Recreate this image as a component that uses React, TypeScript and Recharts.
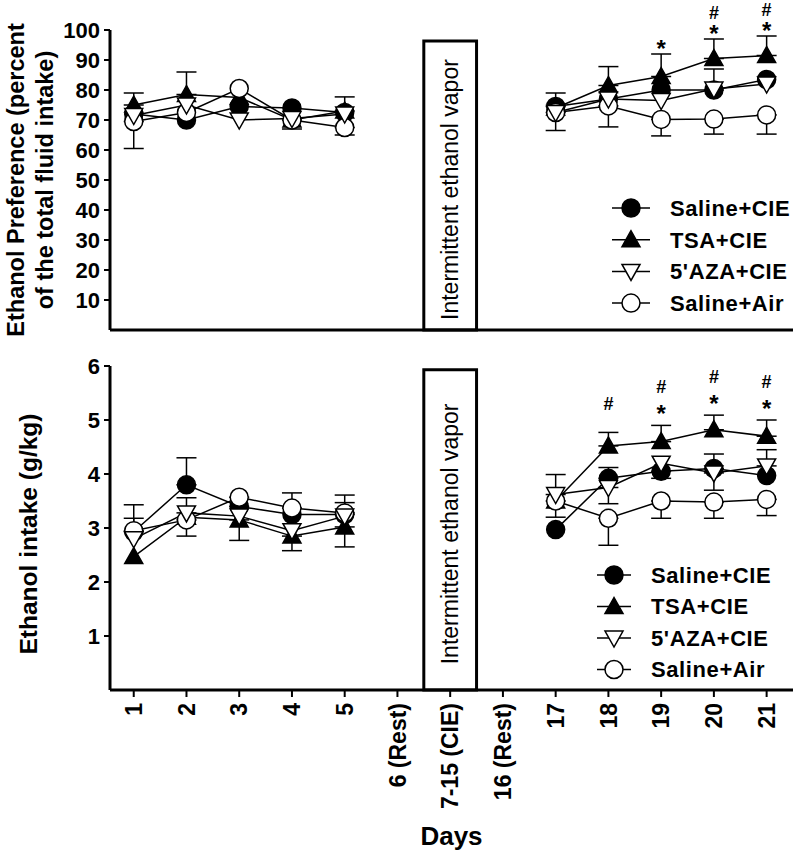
import React from "react";
import { LineChart, Line, XAxis, YAxis, ErrorBar, ReferenceArea, LabelList } from "recharts";

const FONT = "Arial, 'Liberation Sans', Helvetica, sans-serif";

const dayLabels = ["1", "2", "3", "4", "5", "6 (Rest)", "7-15 (CIE)", "16 (Rest)", "17", "18", "19", "20", "21"];
const dayTicks = [1, 2, 3, 4, 5, 6, 7, 8, 9, 10, 11, 12, 13];
const seriesNames = ["Saline+CIE", "TSA+CIE", "5'AZA+CIE", "Saline+Air"];

const n = null;

// ethanol preference (% of total fluid intake)
const prefSalineCie = [72, 70, 74.5, 74, 72.5, n, n, n, 74.5, 77, 80, 80, 83.5];
const prefTsa = [75, 78.5, 77.5, 70, 73, n, n, n, 74, 81.5, 84.5, 90.5, 91.5];
const prefAza = [71.5, 75, 70, 70.5, 72, n, n, n, 72.5, 77, 76.5, 80.3, 82];
const prefAir = [69.5, 72.5, 80.5, 70, 67.5, n, n, n, 72.5, 74.7, 70.2, 70.3, 71.7];
// sem, + = bar drawn upward, - = downward
const prefSalineCieErr = [0, 0, 0, 0, 0, n, n, n, 4.5, 0, 0, 7, 0];
const prefTsaErr = [4, 7.5, 0, -3, 4.7, n, n, n, 0, 6.3, 7.5, 6.5, 6.5];
const prefAzaErr = [0, 0, 0, 0, 0, n, n, n, 0, 0, 0, 0, 0];
const prefAirErr = [-9, 0, 0, 0, -2.5, n, n, n, -6, -7, -5.5, -5, -6.4];
const prefSig = ["", "", "", "", "", "", "", "", "", "", "*", "#*", "#*"];

// ethanol intake (g/kg)
const intSalineCie = [2.93, 3.8, 3.4, 3.25, 3.25, n, n, n, 2.97, 3.92, 4.05, 4.1, 3.97];
const intTsa = [2.47, 3.2, 3.15, 2.85, 3.02, n, n, n, 3.5, 4.52, 4.6, 4.82, 4.7];
const intAza = [2.8, 3.28, 3.22, 2.95, 3.22, n, n, n, 3.62, 3.75, 4.2, 4.02, 4.15];
const intAir = [2.95, 3.15, 3.57, 3.37, 3.28, n, n, n, 3.5, 3.18, 3.5, 3.48, 3.53];
const intSalineCieErr = [0.25, 0.5, 0.17, 0, 0.22, n, n, n, 0, 0.2, -0.13, 0.27, 0];
const intTsaErr = [0, 0, -0.38, -0.27, -0.37, n, n, n, 0, 0.25, 0.3, 0.27, 0.3];
const intAzaErr = [0, 0.28, 0, 0, 0, n, n, n, 0.37, -0.3, 0, -0.32, 0.3];
const intAirErr = [0.48, -0.3, 0, 0.28, 0.33, n, n, n, -0.3, -0.5, -0.32, -0.3, -0.3];
const intSig = ["", "", "", "", "", "", "", "", "", "#", "#*", "#*", "#*"];

type Kind = "fillCircle" | "fillTri" | "openTri" | "openCircle";
const kinds: Kind[] = ["fillCircle", "fillTri", "openTri", "openCircle"];
// draw order: open circle under the open triangle
const drawOrder = [0, 1, 3, 2];

function Marker({ kind, cx, cy }: { kind: Kind; cx: number; cy: number }) {
  if (cx == null || cy == null || isNaN(cy)) return <g />;
  if (kind === "fillCircle") return <circle cx={cx} cy={cy} r={9} fill="#000" stroke="#000" strokeWidth={1.5} />;
  if (kind === "openCircle") return <circle cx={cx} cy={cy} r={9} fill="#fff" stroke="#000" strokeWidth={1.5} />;
  if (kind === "fillTri")
    return <polygon points={`${cx},${cy - 9} ${cx - 9},${cy + 7} ${cx + 9},${cy + 7}`} fill="#000" stroke="#000" strokeWidth={1.5} />;
  return <polygon points={`${cx - 9},${cy - 7} ${cx + 9},${cy - 7} ${cx},${cy + 9}`} fill="#fff" stroke="#000" strokeWidth={1.5} />;
}

function errPair(e: number | null) {
  if (e == null || e === 0) return null;
  return e > 0 ? [0, e] : [-e, 0];
}

function buildRows(vals: (number | null)[][], errs: (number | null)[][], sig: string[]) {
  return dayTicks.map((pos, i) => {
    const row: any = { pos, sig: sig[i] || null };
    vals.forEach((v, s) => {
      row[`s${s}`] = v[i];
      row[`e${s}`] = errPair(errs[s][i]);
    });
    const t = vals[1][i];
    const te = errs[1][i] ?? 0;
    row.sigBase = sig[i] && t != null ? t + Math.max(te, 0) : null;
    return row;
  });
}

const prefRows = buildRows(
  [prefSalineCie, prefTsa, prefAza, prefAir],
  [prefSalineCieErr, prefTsaErr, prefAzaErr, prefAirErr],
  prefSig
);
const intRows = buildRows(
  [intSalineCie, intTsa, intAza, intAir],
  [intSalineCieErr, intTsaErr, intAzaErr, intAirErr],
  intSig
);

// "#" and "*" stacked above the TSA error bar, one text element per day
const makeSig = (starGap: number, hashGap: number, loneHashGap: number) => (p: any) => {
  const value = p.value;
  const x = p.x ?? p.viewBox?.x;
  const y = p.y ?? p.viewBox?.y;
  if (!value || x == null || y == null) return null;
  const hasStar = value.includes("*");
  const hasHash = value.includes("#");
  const hy = hasStar ? y - hashGap : y - loneHashGap;
  return (
    <text key={`sig-${p.index}`} textAnchor="middle" fontWeight={700} fontFamily={FONT} fill="#000">
      {hasHash && (
        <tspan x={x} y={hy + 6.5} fontSize={18}>
          #
        </tspan>
      )}
      {hasStar && (
        <tspan x={x} y={y - starGap + 13.5} fontSize={24}>
          *
        </tspan>
      )}
    </text>
  );
};

function VaporLabel(props: any) {
  const vb = props.viewBox || {};
  const cx = vb.x + vb.width / 2;
  const cy = vb.y + vb.height / 2 + 4;
  return (
    <text
      x={cx}
      y={cy}
      transform={`rotate(-90, ${cx}, ${cy})`}
      textAnchor="middle"
      dy="0.35em"
      fontSize={23}
      fontFamily={FONT}
      fill="#000"
    >
      Intermittent ethanol vapor
    </text>
  );
}

function YTitle(props: any) {
  const vb = props.viewBox || {};
  const cy = vb.y + vb.height / 2 + (props.shift || 0);
  const lines: string[] = props.lines;
  const xs: number[] = props.xs;
  return (
    <g>
      {lines.map((l, i) => (
        <text
          key={i}
          x={xs[i]}
          y={cy}
          transform={`rotate(-90, ${xs[i]}, ${cy})`}
          textAnchor="middle"
          dy="0.35em"
          fontSize={props.size || 24}
          fontWeight={700}
          fontFamily={FONT}
          fill="#000"
        >
          {l}
        </text>
      ))}
    </g>
  );
}

function DayTick(props: any) {
  const { x, payload } = props;
  const y = props.y + 4;
  return (
    <text
      x={x}
      y={y}
      transform={`rotate(-90, ${x}, ${y})`}
      textAnchor="end"
      dy="0.36em"
      fontSize={23}
      fontWeight={700}
      fontFamily={FONT}
      fill="#000"
    >
      {dayLabels[payload.value - 1]}
    </text>
  );
}

function Legend({ sx, x1, x2, tx, top, gap }: { sx: number; x1: number; x2: number; tx: number; top: number; gap: number }) {
  return (
    <g>
      {seriesNames.map((name, i) => {
        const y = top + i * gap;
        return (
          <g key={name}>
            <line x1={x1} x2={x2} y1={y} y2={y} stroke="#000" strokeWidth={1.5} />
            <Marker kind={kinds[i]} cx={sx} cy={y} />
            <text x={tx} y={y} dy="0.36em" fontSize={22} fontWeight={700} fontFamily={FONT} fill="#000" letterSpacing={0.6}>
              {name}
            </text>
          </g>
        );
      })}
    </g>
  );
}

const axisLine = { stroke: "#000", strokeWidth: 3 };
const tickLine = { stroke: "#000", strokeWidth: 2 };
const yTick = { fontSize: 22, fontWeight: 700, fill: "#000", fontFamily: FONT };
const xDomain = [0.55, 13.5];

function seriesLines(prefix: string, sigRenderer: any) {
  const out = drawOrder.map((s) => (
    <Line
      key={`${prefix}${s}`}
      dataKey={`s${s}`}
      stroke="#000"
      strokeWidth={1.5}
      connectNulls={false}
      activeDot={false}
      isAnimationActive={false}
      dot={(p: any) => <Marker key={`${prefix}${s}-${p.index}`} kind={kinds[s]} cx={p.cx} cy={p.cy} />}
    >
      <ErrorBar dataKey={`e${s}`} direction="y" width={10} stroke="#000" strokeWidth={1.5} />
    </Line>
  ));
  out.push(
    <Line
      key={`${prefix}sig`}
      dataKey="sigBase"
      stroke="none"
      dot={false}
      activeDot={false}
      isAnimationActive={false}
      legendType="none"
    >
      <LabelList dataKey="sig" content={sigRenderer} />
    </Line>
  );
  return out;
}

export default function App() {
  return (
    <div style={{ position: "absolute", left: 0, top: 0, width: 796, height: 853, background: "#fff" }}>
      <div style={{ position: "absolute", left: 0, top: 0 }}>
        <LineChart width={796} height={345} data={prefRows} margin={{ top: 30, right: 3, bottom: 0, left: 0 }}>
          <XAxis
            type="number"
            dataKey="pos"
            domain={xDomain}
            ticks={dayTicks}
            tick={false}
            tickSize={7}
            height={15}
            axisLine={axisLine}
            tickLine={tickLine}
          />
          <YAxis
            type="number"
            domain={[0, 100]}
            ticks={[10, 20, 30, 40, 50, 60, 70, 80, 90, 100]}
            interval={0}
            width={110}
            tickSize={6}
            tickMargin={4}
            tick={yTick}
            axisLine={axisLine}
            tickLine={tickLine}
            label={<YTitle lines={["Ethanol Preference (percent", "of the total fluid intake)"]} xs={[16, 45]} size={23.5} />}
          />
          <ReferenceArea
            x1={6.5}
            x2={7.5}
            y1={0}
            y2={96.3}
            fill="#fff"
            fillOpacity={1}
            stroke="#000"
            strokeWidth={3}
            label={<VaporLabel />}
          />
          {seriesLines("p", makeSig(11, 27, 27))}
        </LineChart>
      </div>
      <div style={{ position: "absolute", left: 0, top: 345 }}>
        <LineChart width={796} height={508} data={intRows} margin={{ top: 21, right: 3, bottom: 0, left: 0 }}>
          <XAxis
            type="number"
            dataKey="pos"
            domain={xDomain}
            ticks={dayTicks}
            interval={0}
            tick={<DayTick />}
            tickSize={7}
            height={163}
            axisLine={axisLine}
            tickLine={tickLine}
            label={{
              value: "Days",
              position: "insideBottom",
              offset: 8,
              style: { fontSize: 26, fontWeight: 700, fill: "#000", fontFamily: FONT },
            }}
          />
          <YAxis
            type="number"
            domain={[0, 6]}
            ticks={[1, 2, 3, 4, 5, 6]}
            interval={0}
            width={110}
            tickSize={6}
            tickMargin={4}
            tick={yTick}
            axisLine={axisLine}
            tickLine={tickLine}
            label={<YTitle lines={["Ethanol intake (g/kg)"]} xs={[28]} shift={6} size={24.5} />}
          />
          <ReferenceArea
            x1={6.5}
            x2={7.5}
            y1={0}
            y2={5.93}
            fill="#fff"
            fillOpacity={1}
            stroke="#000"
            strokeWidth={3}
            label={<VaporLabel />}
          />
          {seriesLines("i", makeSig(17, 39, 29))}
        </LineChart>
      </div>
      <svg width={796} height={853} style={{ position: "absolute", left: 0, top: 0, pointerEvents: "none" }}>
        <Legend sx={631} x1={612} x2={650} tx={670} top={208} gap={31.7} />
        <Legend sx={614} x1={597} x2={631} tx={651} top={575} gap={31.5} />
      </svg>
    </div>
  );
}
